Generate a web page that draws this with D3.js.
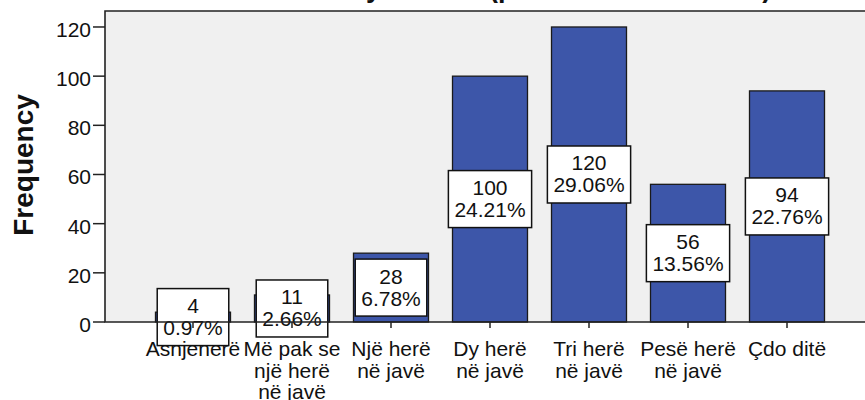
<!DOCTYPE html>
<html><head><meta charset="utf-8">
<script src="https://cdn.jsdelivr.net/npm/d3@7"></script>
<style>
html,body{margin:0;padding:0;background:#fff;}
svg{display:block;}
text{font-family:"Liberation Sans",Arial,sans-serif;fill:#111;}
</style></head>
<body>
<svg id="chart" width="865" height="400"></svg>
<script>
// ---- data ----
const categories = ["Asnjenerë", "Më pak se një herë në javë", "Një herë në javë", "Dy herë në javë", "Tri herë në javë", "Pesë herë në javë", "Çdo ditë"];
const categoryLines = [["Asnjenerë"], ["Më pak se", "një herë", "në javë"], ["Një herë", "në javë"], ["Dy herë", "në javë"], ["Tri herë", "në javë"], ["Pesë herë", "në javë"], ["Çdo ditë"]];
const frequencies = [4, 11, 28, 100, 120, 56, 94];
const percents = ["0.97%", "2.66%", "6.78%", "24.21%", "29.06%", "13.56%", "22.76%"];
const yTicks = [0, 20, 40, 60, 80, 100, 120];
const yTitle = "Frequency";
const chartTitle = "Sa herë e kryeni këtë (për shëndetin e mirë)";

// ---- layout ----
const svg = d3.select("#chart");
const pLeft = 105, pRight = 875, pTop = 11, pBottom = 322;

const x = d3.scaleBand().domain(categories).range([pLeft, pRight]).paddingInner(0.2424).paddingOuter(0.51);
const y = d3.scaleLinear().domain([0, 126.5]).range([pBottom, pTop]);

// title (mostly above the visible area)
const title = svg.append("text").attr("y", -3).attr("font-size", 27).attr("font-weight", "bold").text(chartTitle);
const yi = chartTitle.indexOf("y");
let off = 0;
try { off = title.node().getSubStringLength(0, yi); } catch (e) { off = 160; }
title.attr("x", 366 - off);

// plot background
svg.append("rect").attr("x", pLeft).attr("y", pTop).attr("width", pRight - pLeft).attr("height", pBottom - pTop)
  .attr("fill", "#f0f0f0");

// bars
svg.append("g").selectAll("rect").data(frequencies).join("rect")
  .attr("x", (d, i) => x(categories[i]))
  .attr("y", d => y(d))
  .attr("width", x.bandwidth())
  .attr("height", d => y(0) - y(d))
  .attr("fill", "#3d56a9")
  .attr("stroke", "#1a1a1a")
  .attr("stroke-width", 1.3);

// value labels
const lbl = svg.append("g").selectAll("g").data(frequencies).join("g")
  .attr("transform", (d, i) => `translate(${x(categories[i]) + x.bandwidth() / 2},${y(d / 2)})`);
lbl.each(function (d, i) {
  const g = d3.select(this);
  const r = g.append("rect");
  const t1 = g.append("text").attr("text-anchor", "middle").attr("y", -4).attr("font-size", 21).text(d);
  const t2 = g.append("text").attr("text-anchor", "middle").attr("y", 18).attr("font-size", 21).text(percents[i]);
  const w = Math.max(t1.node().getComputedTextLength(), t2.node().getComputedTextLength()) + 12;
  r.attr("x", -w / 2).attr("y", -28.5).attr("width", w).attr("height", 57)
    .attr("fill", "#fff").attr("stroke", "#111").attr("stroke-width", 1.5);
});

// frame (top/left/bottom)
svg.append("path")
  .attr("d", `M${pRight},${pTop}H${pLeft}V${pBottom}H${pRight}`)
  .attr("fill", "none").attr("stroke", "#222").attr("stroke-width", 1.6);

// y axis ticks + labels
const yg = svg.append("g");
yg.selectAll("line").data(yTicks).join("line")
  .attr("x1", 93).attr("x2", pLeft).attr("y1", d => y(d)).attr("y2", d => y(d))
  .attr("stroke", "#222").attr("stroke-width", 1.5);
yg.selectAll("text").data(yTicks).join("text")
  .attr("x", 91).attr("y", d => y(d) + 10).attr("text-anchor", "end").attr("font-size", 21)
  .attr("fill", "#222").text(d => d);

// y title
svg.append("text").attr("transform", `translate(33,165) rotate(-90)`).attr("text-anchor", "middle")
  .attr("font-size", 28).attr("font-weight", "bold").text(yTitle);

// x ticks + labels
const xg = svg.append("g");
xg.selectAll("line").data(categories).join("line")
  .attr("x1", d => x(d) + x.bandwidth() / 2).attr("x2", d => x(d) + x.bandwidth() / 2)
  .attr("y1", pBottom).attr("y2", pBottom + 6).attr("stroke", "#222").attr("stroke-width", 1.5);
xg.selectAll("text").data(categories).join("text")
  .attr("text-anchor", "middle").attr("font-size", 21)
  .each(function (d, i) {
    const t = d3.select(this);
    categoryLines[i].forEach((ln, k) => {
      t.append("tspan").attr("x", x(d) + x.bandwidth() / 2).attr("y", 356 + k * 21.5).text(ln);
    });
  });
</script>
</body></html>
